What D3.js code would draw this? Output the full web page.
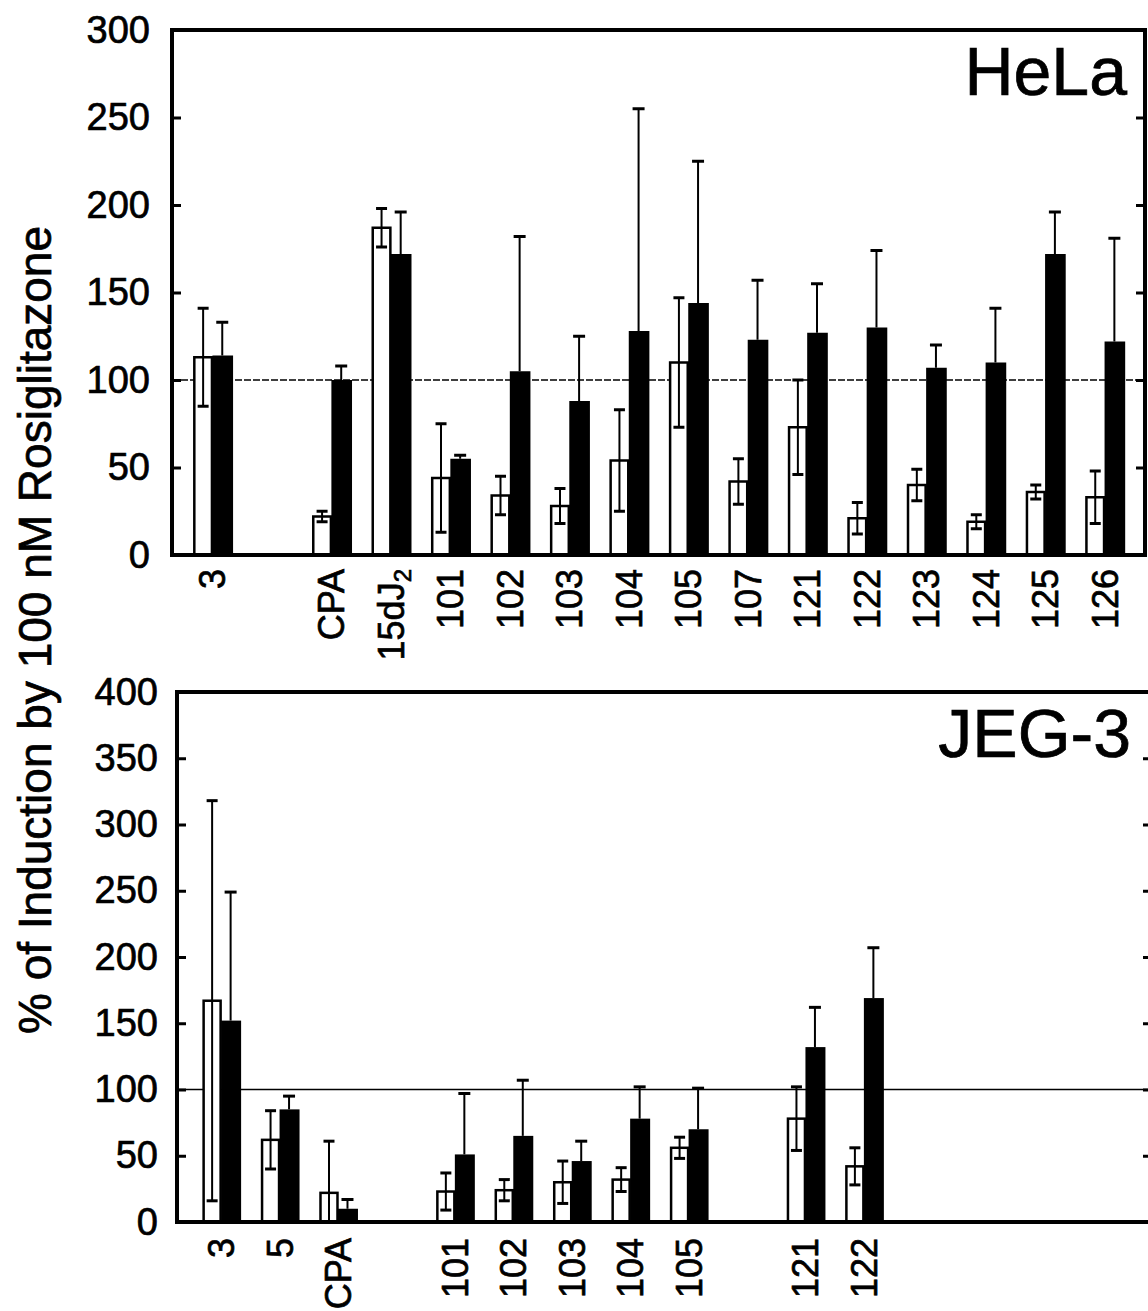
<!DOCTYPE html>
<html>
<head>
<meta charset="utf-8">
<script src="https://cdn.jsdelivr.net/npm/d3@7"></script>
<style>
  body { margin: 0; background: #fff; }
  svg { display: block; }
  text { font-family: "Liberation Sans", Arial, Helvetica, sans-serif; fill: #000; stroke: #000; stroke-width: 0.7px; }
</style>
</head>
<body>
<script>
// HeLa panel (slots with "gap" keys are empty positions on the x axis)
const helaSlots = ["3", "gap1", "CPA", "15dJ2", "101", "102", "103", "104", "105", "107", "121", "122", "123", "124", "125", "126"];
const helaCats = ["3", "CPA", "15dJ2", "101", "102", "103", "104", "105", "107", "121", "122", "123", "124", "125", "126"];
const helaOpen = [113, 22, 187, 44, 34, 28, 54, 110, 42, 73, 21, 40, 19, 36, 33];
const helaOpenErr = [28, 3, 11, 31, 11, 10, 29, 37, 13, 27, 9, 9, 4, 4, 15];
const helaBlack = [114, 100, 172, 55, 105, 88, 128, 144, 123, 127, 130, 107, 110, 172, 122];
const helaBlackErr = [19, 8, 24, 2, 77, 37, 127, 81, 34, 28, 44, 13, 31, 24, 59];
const helaTicks = [0, 50, 100, 150, 200, 250, 300];

// JEG-3 panel
const jegSlots = ["3", "5", "CPA", "gap3", "101", "102", "103", "104", "105", "gap9", "121", "122"];
const jegCats = ["3", "5", "CPA", "101", "102", "103", "104", "105", "121", "122"];
const jegOpen = [167, 62, 22, 23, 24, 30, 32, 56, 78, 42];
const jegOpenErr = [151, 22, 39, 14, 8, 16, 9, 8, 24, 14];
const jegBlack = [152, 85, 10, 51, 65, 46, 78, 70, 132, 169];
const jegBlackErr = [97, 10, 7, 46, 42, 15, 24, 31, 30, 38];
const jegTicks = [0, 50, 100, 150, 200, 250, 300, 350, 400];

const W = 1148, H = 1311;
const svg = d3.select("body").append("svg").attr("width", W).attr("height", H);

function drawPanel(p) {
  const g = svg.append("g");
  const x = d3.scaleBand().domain(p.slots).range([p.left, p.xEnd])
    .paddingInner(p.inner).paddingOuter(p.outer);
  const bw = x.bandwidth() / 2;
  const y = d3.scaleLinear().domain([0, p.max]).range([p.bottom, p.top]);

  const rows = p.cats.map((c, i) => ({
    cat: c, open: p.open[i], openErr: p.openErr[i], black: p.black[i], blackErr: p.blackErr[i]
  }));

  // 100% reference line, behind the bars
  g.append("line")
    .attr("x1", p.left).attr("x2", p.right)
    .attr("y1", y(100)).attr("y2", y(100))
    .attr("stroke", "#000").attr("stroke-width", 1.6)
    .attr("stroke-dasharray", p.dashed ? "7,2" : null);

  const bars = g.append("g").selectAll("g").data(rows).join("g")
    .attr("transform", d => `translate(${x(d.cat)},0)`);

  // open bars
  bars.append("rect")
    .attr("x", 1.5).attr("width", bw - 2)
    .attr("y", d => y(d.open)).attr("height", d => y(0) - y(d.open))
    .attr("fill", "#fff").attr("stroke", "#000").attr("stroke-width", 2.5);

  // error bars on open bars (both directions)
  bars.append("line")
    .attr("x1", bw / 2 + 0.5).attr("x2", bw / 2 + 0.5)
    .attr("y1", d => y(Math.max(0, d.open - d.openErr)))
    .attr("y2", d => y(d.open + d.openErr))
    .attr("stroke", "#000").attr("stroke-width", 2);
  bars.append("line")
    .attr("x1", bw / 2 - 5).attr("x2", bw / 2 + 6)
    .attr("y1", d => y(d.open + d.openErr)).attr("y2", d => y(d.open + d.openErr))
    .attr("stroke", "#000").attr("stroke-width", 3);
  bars.filter(d => d.open - d.openErr > 0).append("line")
    .attr("x1", bw / 2 - 5).attr("x2", bw / 2 + 6)
    .attr("y1", d => y(d.open - d.openErr)).attr("y2", d => y(d.open - d.openErr))
    .attr("stroke", "#000").attr("stroke-width", 3);

  // black bars
  bars.append("rect")
    .attr("x", bw).attr("width", bw + 1)
    .attr("y", d => y(d.black)).attr("height", d => y(0) - y(d.black))
    .attr("fill", "#000");
  bars.append("line")
    .attr("x1", bw * 1.5).attr("x2", bw * 1.5)
    .attr("y1", d => y(d.black)).attr("y2", d => y(d.black + d.blackErr))
    .attr("stroke", "#000").attr("stroke-width", 2);
  bars.append("line")
    .attr("x1", bw * 1.5 - 6).attr("x2", bw * 1.5 + 6)
    .attr("y1", d => y(d.black + d.blackErr)).attr("y2", d => y(d.black + d.blackErr))
    .attr("stroke", "#000").attr("stroke-width", 3);

  // left axis, ticks pointing inward
  g.append("g")
    .attr("transform", `translate(${p.left},0)`)
    .call(d3.axisLeft(y).tickValues(p.ticks).tickSize(-9).tickPadding(p.pad))
    .call(a => a.select(".domain").remove())
    .call(a => a.selectAll("line").attr("stroke-width", 3))
    .attr("font-size", 38)
    .attr("font-family", null);

  // right axis, no labels
  g.append("g")
    .attr("transform", `translate(${p.right},0)`)
    .call(d3.axisRight(y).tickValues(p.ticks).tickSize(-9).tickFormat(""))
    .call(a => a.select(".domain").remove())
    .call(a => a.selectAll("line").attr("stroke-width", 3));

  // category labels
  const xa = g.append("g")
    .attr("transform", `translate(0,${p.bottom})`)
    .call(d3.axisBottom(x).tickValues(p.cats).tickSize(0))
    .call(a => a.select(".domain").remove())
    .attr("font-size", 36)
    .attr("font-family", null);
  xa.selectAll("text")
    .attr("transform", "rotate(-90)")
    .attr("x", -p.labelOff).attr("y", 0).attr("dy", "0.36em")
    .style("text-anchor", "end");
  xa.selectAll("text").filter(d => d === "15dJ2").text("15dJ")
    .append("tspan").attr("font-size", 24).attr("dy", "0.3em").text("2");

  // frame
  g.append("rect")
    .attr("x", p.left).attr("y", p.top)
    .attr("width", p.right - p.left).attr("height", p.bottom - p.top)
    .attr("fill", "none").attr("stroke", "#000").attr("stroke-width", 4);

  g.append("text")
    .attr("x", p.nameX).attr("y", p.nameY)
    .attr("text-anchor", "end").attr("font-size", 68)
    .text(p.name);
}

drawPanel({
  slots: helaSlots, cats: helaCats, open: helaOpen, openErr: helaOpenErr,
  black: helaBlack, blackErr: helaBlackErr, ticks: helaTicks, max: 300,
  left: 172, right: 1145, xEnd: 1145, top: 30, bottom: 555,
  inner: 0.34, outer: 0.35, pad: 22, labelOff: 14, dashed: true,
  name: "HeLa", nameX: 1127, nameY: 95
});

drawPanel({
  slots: jegSlots, cats: jegCats, open: jegOpen, openErr: jegOpenErr,
  black: jegBlack, blackErr: jegBlackErr, ticks: jegTicks, max: 400,
  left: 177, right: 1152, xEnd: 908, top: 692, bottom: 1222,
  inner: 0.35, outer: 0.43, pad: 19, labelOff: 16, dashed: false,
  name: "JEG-3", nameX: 1131, nameY: 757
});

// shared y axis title
svg.append("text")
  .attr("transform", "translate(51,630) rotate(-90)")
  .attr("text-anchor", "middle")
  .attr("font-size", 46)
  .text("% of Induction by 100 nM Rosiglitazone");
</script>
</body>
</html>
